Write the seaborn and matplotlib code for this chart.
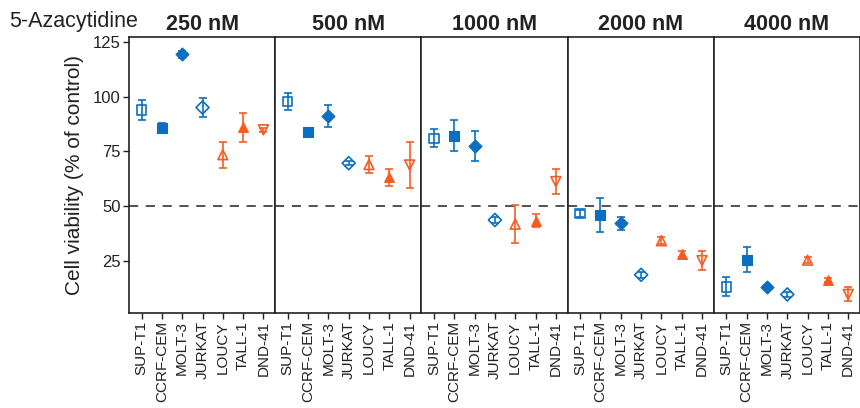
import matplotlib
matplotlib.use("Agg")
import matplotlib.pyplot as plt
import seaborn as sns
import pandas as pd

# valores (media e erro por linhagem)
concentrations = ["250 nM", "500 nM", "1000 nM", "2000 nM", "4000 nM"]
cell_lines = ["SUP-T1", "CCRF-CEM", "MOLT-3", "JURKAT", "LOUCY", "TALL-1", "DND-41"]

mean_250 = [94.0, 85.8, 119.5, 95.1, 73.5, 86.0, 84.9]
err_250 = [4.4, 2.3, 1.5, 4.2, 6.0, 6.5, 1.0]
mean_500 = [97.9, 84.1, 91.3, 69.6, 69.0, 63.2, 68.8]
err_500 = [3.9, 1.0, 5.0, 1.0, 3.8, 3.9, 10.7]
mean_1000 = [81.0, 82.2, 77.4, 43.6, 41.7, 43.2, 61.2]
err_1000 = [4.2, 7.2, 6.8, 1.5, 8.6, 3.0, 5.6]
mean_2000 = [46.6, 45.9, 42.0, 18.5, 34.1, 28.0, 25.0]
err_2000 = [1.5, 7.7, 3.0, 1.5, 1.5, 1.5, 4.4]
mean_4000 = [13.0, 25.5, 13.0, 9.5, 25.2, 16.1, 9.5]
err_4000 = [4.3, 5.7, 1.0, 1.0, 1.5, 1.0, 3.2]

means = [mean_250, mean_500, mean_1000, mean_2000, mean_4000]
errs = [err_250, err_500, err_1000, err_2000, err_4000]

blue = "#0b6fc1"
orange = "#f85b22"
line_colors = [blue, blue, blue, blue, orange, orange, orange]
line_markers = ["s", "s", "D", "D", "^", "^", "v"]
line_filled = [False, True, True, False, False, True, False]

rows = []
for c, m, e in zip(concentrations, means, errs):
    for cl, v, er in zip(cell_lines, m, e):
        rows.append({"conc": c, "line": cl, "viability": v, "err": er})
df = pd.DataFrame(rows)

sns.set_style("ticks")
plt.rcParams["font.family"] = ["Liberation Sans", "DejaVu Sans"]

fig, axes = plt.subplots(1, 5, figsize=(8.6, 4.08), dpi=100, sharey=True)
fig.subplots_adjust(left=129 / 860, right=1.0, bottom=1 - 313 / 408, top=1 - 37 / 408, wspace=0)

sizes = {"s": 46, "D": 44, "^": 50, "v": 50}

for ax, conc in zip(axes, concentrations):
    sub = df[df["conc"] == conc].reset_index(drop=True)
    ax.axhline(50, color="#222222", lw=1.1, ls=(0, (6, 5)), zorder=1)
    for i, r in sub.iterrows():
        col = line_colors[i]
        ax.errorbar(i, r["viability"], yerr=r["err"], fmt="none", ecolor=col,
                    elinewidth=1.2, capsize=2.6, capthick=1.2, zorder=2)
    # marcadores via seaborn
    for i, r in sub.iterrows():
        col = line_colors[i]
        mk = line_markers[i]
        size = sizes[mk]
        if line_filled[i]:
            sns.scatterplot(x=[i], y=[r["viability"]], marker=mk, s=size, color=col,
                            edgecolor=col, linewidth=0.8, ax=ax, zorder=3, legend=False)
        else:
            sns.scatterplot(x=[i], y=[r["viability"]], marker=mk, s=size, facecolor="none",
                            edgecolor=col, linewidth=1.2, ax=ax, zorder=3, legend=False)
    ax.set_xlim(-0.62, 6.58)
    ax.set_ylim(1, 127.4)
    ax.set_xticks(range(len(cell_lines)))
    ax.set_xticklabels(cell_lines, rotation=90, fontsize=11, color="#222222")
    ax.set_xlabel("")
    ax.set_title(conc, fontsize=15.5, fontweight="bold", color="#222222", pad=5)
    for s in ax.spines.values():
        s.set_color("#222222")
        s.set_linewidth(1.2)
    ax.tick_params(axis="x", length=4, width=1, color="#222222", pad=2)
    if ax is not axes[0]:
        ax.tick_params(axis="y", left=False)

axes[0].set_yticks([25, 50, 75, 100, 125])
axes[0].tick_params(axis="y", labelsize=12, length=4, width=1, color="#222222", labelcolor="#222222", pad=2)
axes[0].set_ylabel("Cell viability (% of control)", fontsize=15, color="#222222", labelpad=6)
fig.text(74 / 860, 1 - 22 / 408, "5-Azacytidine", fontsize=15.5, ha="center", va="center", color="#222222")

plt.savefig("out.png", dpi=100)
